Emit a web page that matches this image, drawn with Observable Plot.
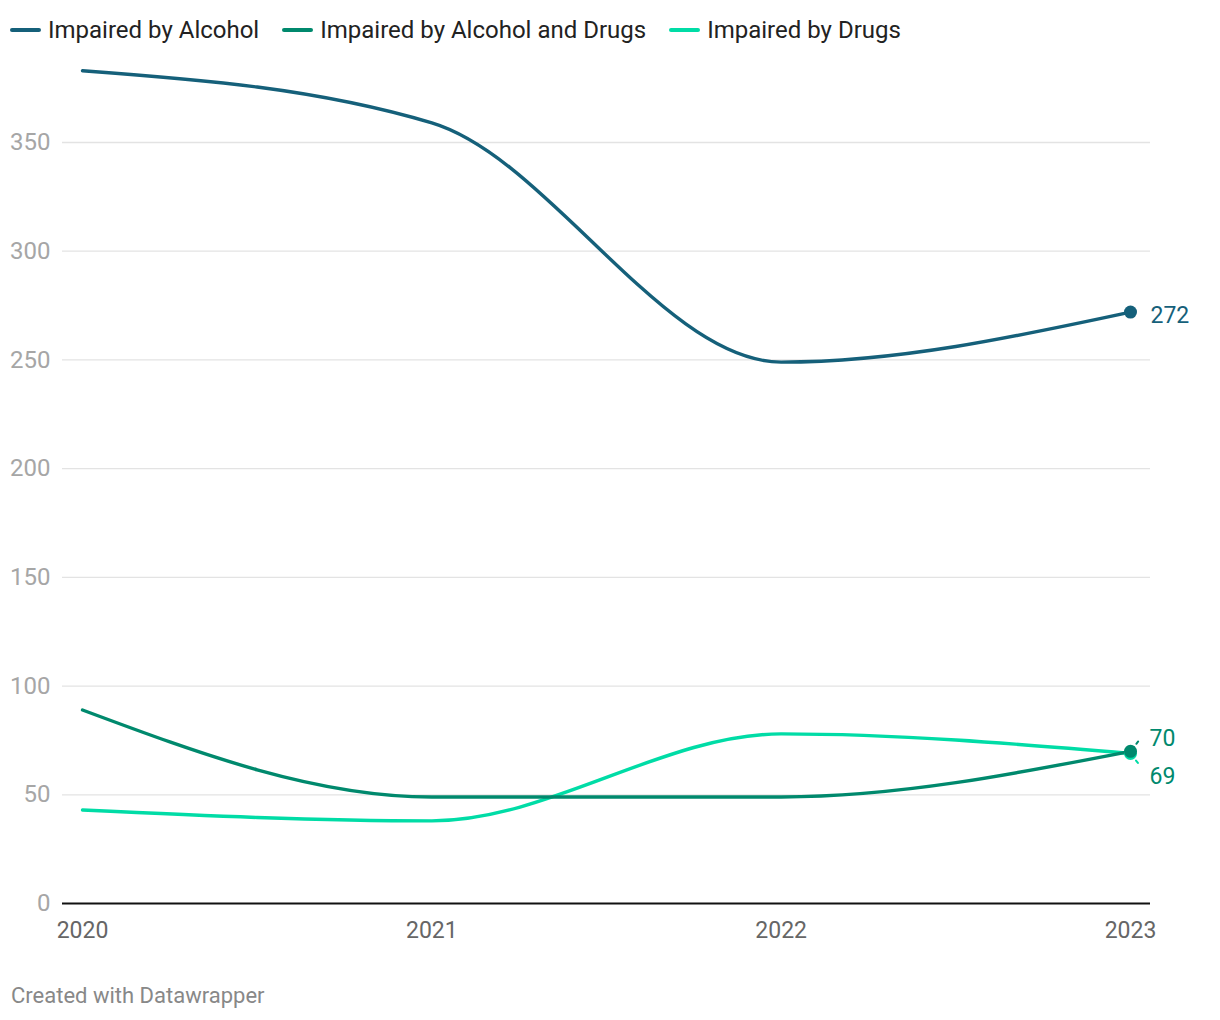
<!DOCTYPE html>
<html>
<head>
<meta charset="utf-8">
<script src="https://cdn.jsdelivr.net/npm/d3@7"></script>
<script src="https://cdn.jsdelivr.net/npm/@observablehq/plot@0.6"></script>
<style>
  html, body { margin: 0; padding: 0; background: #fff; font-family: Roboto, "Noto Sans", sans-serif; }
  #legend { height: 60px; display: flex; align-items: center; padding-left: 10px; box-sizing: border-box; font-size: 24px; color: #222; }
  .item { display: flex; align-items: center; margin-right: 23px; }
  .sw { width: 31px; height: 4px; border-radius: 2px; margin-right: 7px; }
  #caption { font-size: 22px; color: #888; padding-left: 11px; margin-top: 33px; }
</style>
</head>
<body>
<div id="legend"></div>
<div id="chart"></div>
<div id="caption">Created with Datawrapper</div>
<script>
const years = [2020, 2021, 2022, 2023];
const seriesNames = ["Impaired by Alcohol", "Impaired by Alcohol and Drugs", "Impaired by Drugs"];
const alcohol = [383, 359, 249, 272];
const alcoholDrugs = [89, 49, 49, 70];
const drugs = [43, 38, 78, 69];
const yTicks = [0, 50, 100, 150, 200, 250, 300, 350];
const colors = ["#15607a", "#00896d", "#00dca6"];

const seriesValues = [alcohol, alcoholDrugs, drugs];
const rows = [];
seriesNames.forEach((s, i) => years.forEach((y, j) => rows.push({series: s, year: y, value: seriesValues[i][j]})));
const last = seriesNames.map((s, i) => ({series: s, year: years[years.length - 1], value: seriesValues[i][years.length - 1]}));

// legend
const legend = document.getElementById("legend");
seriesNames.forEach((s, i) => {
  const it = document.createElement("div");
  it.className = "item";
  it.innerHTML = `<span class="sw" style="background:${colors[i]}"></span><span>${s}</span>`;
  legend.appendChild(it);
});

const color = {domain: seriesNames, range: colors};
const drawOrder = [seriesNames[2], seriesNames[1], seriesNames[0]];

const connector = {draw(ctx, l) { ctx.moveTo(0, -8); ctx.lineTo(0, -l); }};

const chart = Plot.plot({
  width: 1220,
  height: 890,
  marginLeft: 82,
  marginRight: 90,
  marginTop: 82,
  marginBottom: 47,
  style: {fontFamily: "Roboto, sans-serif", fontSize: "24px", overflow: "visible"},
  x: {domain: [2020, 2023], ticks: years, tickFormat: d => String(d)},
  y: {domain: [0, 350], ticks: yTicks},
  color,
  marks: [
    Plot.ruleY(yTicks.filter(d => d > 0), {stroke: "#e3e3e3", strokeWidth: 1.3, insetLeft: -20, insetRight: -20}),
    Plot.axisY({ticks: yTicks, tickSize: 0, tickPadding: 32, fill: "#a6a6a6", fontSize: 24, label: null}),
    Plot.axisX({ticks: years, tickSize: 0, tickPadding: 18, fill: "#666", fontSize: 23, label: null, tickFormat: d => String(d)}),
    Plot.ruleY([0], {stroke: "#111", strokeWidth: 2, insetLeft: -20, insetRight: -20}),
    drawOrder.map(s => Plot.line(rows.filter(r => r.series === s), {x: "year", y: "value", stroke: colors[seriesNames.indexOf(s)], strokeWidth: 3.4, curve: "monotone-x"})),
    Plot.vector([last[1]], {x: "year", y: "value", length: 25, rotate: 38, shape: connector, stroke: colors[1], strokeWidth: 2, strokeDasharray: "3,4"}),
    Plot.vector([last[2]], {x: "year", y: "value", length: 26, rotate: 142, shape: connector, stroke: colors[2], strokeWidth: 2, strokeDasharray: "3,4"}),
    Plot.dot([last[2], last[1], last[0]], {x: "year", y: "value", r: 6.5, fill: d => colors[seriesNames.indexOf(d.series)]}),
    Plot.text([last[0]], {x: "year", y: "value", text: d => String(d.value), dx: 20, dy: 4, textAnchor: "start", fill: colors[0], fontSize: 23}),
    Plot.text([last[1]], {x: "year", y: "value", text: d => String(d.value), dx: 19, dy: -13, textAnchor: "start", fill: colors[1], fontSize: 23}),
    Plot.text([last[2]], {x: "year", y: "value", text: d => String(d.value), dx: 19, dy: 23, textAnchor: "start", fill: colors[1], fontSize: 23})
  ]
});
document.getElementById("chart").appendChild(chart);
</script>
</body>
</html>
